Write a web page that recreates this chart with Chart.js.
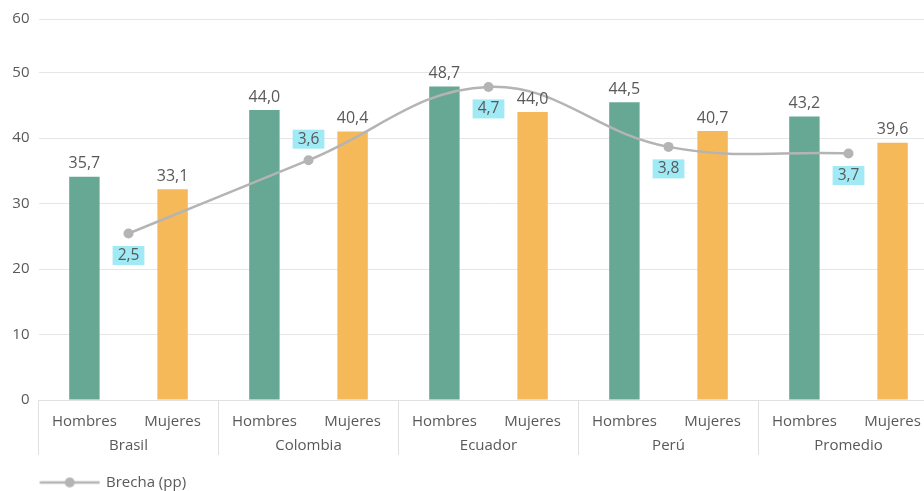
<!DOCTYPE html>
<html><head><meta charset="utf-8">
<script src="https://cdn.jsdelivr.net/npm/chart.js@4.4.0/dist/chart.umd.min.js"></script>
<style>html,body{margin:0;padding:0;overflow:hidden;background:#fff;width:924px;height:491px}</style>
</head><body>
<canvas id="c" width="945" height="500" style="display:block;width:945px;height:500px"></canvas>
<script>
const categories = ['Brasil', 'Colombia', 'Ecuador', 'Perú', 'Promedio'];
const groupLabels = ['Hombres', 'Mujeres'];
const hombres = [34.1, 44.3, 47.9, 45.5, 43.3];
const mujeres = [32.2, 41.0, 44.0, 41.1, 39.3];
const hombresLabels = ['35,7', '44,0', '48,7', '44,5', '43,2'];
const mujeresLabels = ['33,1', '40,4', '44,0', '40,7', '39,6'];
const brecha = [2.5, 3.6, 4.7, 3.8, 3.7];
const brechaLabelSide = ['below', 'above', 'below', 'below', 'below'];
const yTickValues = [0, 10, 20, 30, 40, 50, 58.2];
const yTickLabels = ['0', '10', '20', '30', '40', '50', '60'];

const FONT = '"Open Sans", Lato, sans-serif';
const TEXT = '#595959';
const GREEN = '#67A894';
const ORANGE = '#F6B95A';
const LINE = '#B4B4B4';
const GRID = '#E6E6E6';
const LABEL_BG = '#A0EAF5';

Chart.defaults.font.family = FONT;
Chart.defaults.color = TEXT;

// legend marker: line with a circle
const legendMark = document.createElement('canvas');
legendMark.width = 92; legendMark.height = 16;
(function () {
  const g = legendMark.getContext('2d');
  g.strokeStyle = LINE; g.lineWidth = 2.5;
  g.beginPath(); g.moveTo(31.5, 8); g.lineTo(91.5, 8); g.stroke();
  g.fillStyle = LINE; g.beginPath(); g.arc(61.5, 8, 5, 0, Math.PI * 2); g.fill();
})();

const labelPlugin = {
  id: 'valueLabels',
  afterDatasetsDraw(chart) {
    const ctx = chart.ctx;
    ctx.save();
    ctx.textAlign = 'center';
    ctx.textBaseline = 'middle';
    // bar value labels
    ctx.font = '16px ' + FONT;
    ctx.fillStyle = TEXT;
    [[0, hombresLabels], [1, mujeresLabels]].forEach(([di, labs]) => {
      chart.getDatasetMeta(di).data.forEach((bar, i) => {
        ctx.fillText(labs[i], bar.x, bar.y - 13);
      });
    });
    // group labels under the axis
    ctx.font = '15px ' + FONT;
    const xs = chart.scales.x;
    [0, 1].forEach(di => {
      chart.getDatasetMeta(di).data.forEach(bar => {
        ctx.fillText(groupLabels[di], bar.x, xs.top + 22);
      });
    });
    // brecha labels
    ctx.font = '15.5px ' + FONT;
    const meta = chart.getDatasetMeta(2);
    meta.data.forEach((pt, i) => {
      const txt = brecha[i].toFixed(1).replace('.', ',');
      const w = ctx.measureText(txt).width + 10;
      const h = 19;
      const cy = brechaLabelSide[i] === 'above' ? pt.y - 21 : pt.y + 22;
      ctx.fillStyle = LABEL_BG;
      ctx.fillRect(pt.x - w / 2, cy - h / 2, w, h);
      ctx.fillStyle = TEXT;
      ctx.fillText(txt, pt.x, cy);
    });
    ctx.restore();
  }
};

new Chart(document.getElementById('c'), {
  type: 'bar',
  data: {
    labels: categories,
    datasets: [
      { label: 'Hombres', data: hombres, backgroundColor: GREEN, categoryPercentage: 0.98, barPercentage: 0.345, order: 1 },
      { label: 'Mujeres', data: mujeres, backgroundColor: ORANGE, categoryPercentage: 0.98, barPercentage: 0.345, order: 1 },
      { type: 'line', label: 'Brecha (pp)', data: brecha, yAxisID: 'y1', borderColor: LINE, backgroundColor: LINE,
        borderWidth: 2.5, pointRadius: 5, pointBackgroundColor: LINE, pointBorderWidth: 0, tension: 0.4, order: 0 }
    ]
  },
  options: {
    responsive: false,
    animation: false,
    devicePixelRatio: 1,
    layout: { padding: { top: 19, right: 6.5, left: 0, bottom: 0 } },
    plugins: {
      tooltip: { enabled: false },
      legend: {
        position: 'bottom',
        align: 'start',
        title: { display: true, text: '', padding: { top: 9, bottom: 0 }, font: { size: 1, lineHeight: 1 } },
        labels: {
          filter: item => item.datasetIndex === 2,
          usePointStyle: true,
          pointStyle: legendMark,
          pointStyleWidth: 88.5,
          padding: 10,
          color: TEXT,
          font: { size: 15 }
        }
      }
    },
    scales: {
      x: {
        grid: { drawOnChartArea: false, tickLength: 55, color: '#E0E0E0', offset: true },
        border: { color: '#E0E0E0' },
        ticks: { padding: -18, color: TEXT, font: { size: 15 } },
        afterFit: s => { s.height = 55; }
      },
      y: {
        min: 0,
        max: yTickValues[yTickValues.length - 1],
        afterBuildTicks: s => { s.ticks = yTickValues.map(v => ({ value: v })); },
        ticks: { callback: (v, i) => yTickLabels[i], padding: 9, color: TEXT, font: { size: 15 } },
        grid: { color: GRID, drawTicks: false },
        border: { display: false },
        afterFit: s => { s.width = 38.5; }
      },
      y1: { display: false, min: 0, max: 5.72 }
    }
  },
  plugins: [labelPlugin]
});
</script>
</body></html>
